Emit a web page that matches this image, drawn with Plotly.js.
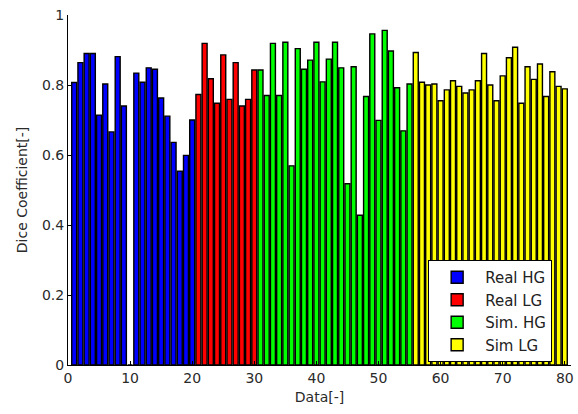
<!DOCTYPE html>
<html>
<head>
<meta charset="utf-8">
<script src="https://cdn.plot.ly/plotly-3.0.1.min.js"></script>
<style>html,body{margin:0;padding:0;background:#fff;}#chart{width:578px;height:414px;}</style>
</head>
<body>
<div id="chart"></div>
<script>
// Series values (bar index -> Dice coefficient)
const realHG = [0.807, 0.864, 0.890, 0.890, 0.714, 0.803, 0.666, 0.881, 0.740, 0.0,
                0.834, 0.808, 0.849, 0.845, 0.763, 0.711, 0.636, 0.554, 0.599, 0.700];
const realLG = [0.773, 0.919, 0.818, 0.748, 0.886, 0.759, 0.864, 0.740, 0.759, 0.843];
const simHG  = [0.843, 0.770, 0.919, 0.770, 0.922, 0.569, 0.904, 0.845, 0.871, 0.922,
                0.809, 0.874, 0.922, 0.849, 0.518, 0.852, 0.428, 0.767, 0.946, 0.699,
                0.956, 0.897, 0.792, 0.669, 0.803];
const simLG  = [0.893, 0.808, 0.800, 0.803, 0.755, 0.786, 0.812, 0.796, 0.777, 0.786,
                0.812, 0.890, 0.800, 0.755, 0.826, 0.878, 0.908, 0.748, 0.852, 0.816,
                0.860, 0.767, 0.838, 0.796, 0.789];
const seriesNames = ["Real HG", "Real LG", "Sim. HG", "Sim LG"];
const seriesColors = ["#0000FF", "#FF0000", "#00FF00", "#FFFF00"];
const xTickVals = [0, 10, 20, 30, 40, 50, 60, 70, 80];
const yTickVals = [0, 0.2, 0.4, 0.6, 0.8, 1];

const allSeries = [realHG, realLG, simHG, simLG];
let offset = 0;
const traces = allSeries.map((vals, k) => {
  const xs = vals.map((_, i) => offset + i + 1);
  offset += vals.length;
  return {
    type: "bar",
    name: seriesNames[k],
    x: xs,
    y: vals,
    width: 0.8,
    marker: {color: seriesColors[k], line: {color: "#000", width: 1.4}},
    hoverinfo: "x+y"
  };
});

const font = {family: "DejaVu Sans, Liberation Sans, Arial, sans-serif", size: 14, color: "#2a2a2a"};

const layout = {
  width: 578, height: 414,
  margin: {l: 68, r: 7, t: 15, b: 49},
  paper_bgcolor: "#fff", plot_bgcolor: "#fff",
  font: font,
  barmode: "overlay",
  showlegend: true,
  legend: {
    x: 0.716, y: 0.30, xanchor: "left", yanchor: "top",
    bgcolor: "#fff", bordercolor: "#000", borderwidth: 1,
    font: {family: font.family, size: 15, color: "#222"},
    itemwidth: 46, tracegroupgap: 2
  },
  xaxis: {
    range: [0, 81], tickvals: xTickVals, ticks: "inside", ticklen: 4,
    tickcolor: "#000", showline: true, linecolor: "#000", linewidth: 1,
    showgrid: false, zeroline: false, mirror: false,
    title: {text: "Data[-]", font: {family: font.family, size: 14, color: "#2a2a2a"}, standoff: 7}
  },
  yaxis: {
    range: [0, 1], tickvals: yTickVals, ticks: "inside", ticklen: 4,
    tickcolor: "#000", showline: true, linecolor: "#000", linewidth: 1,
    showgrid: false, zeroline: false, mirror: false,
    title: {text: "Dice Coefficient[-]", font: {family: font.family, size: 14, color: "#2a2a2a"}, standoff: 11}
  }
};

Plotly.newPlot("chart", traces, layout, {staticPlot: true, displayModeBar: false});
</script>
</body>
</html>
